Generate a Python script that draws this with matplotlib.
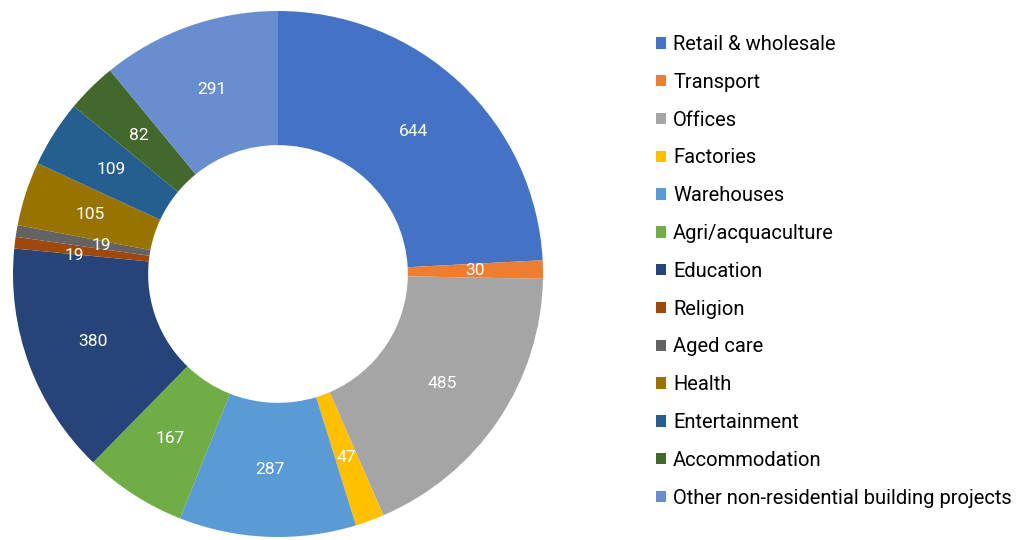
import matplotlib
matplotlib.use("Agg")
import matplotlib.pyplot as plt
import numpy as np
from matplotlib.patches import Patch

plt.rcParams['font.family'] = ['Roboto', 'DejaVu Sans']

# Non-residential building projects by category
categories = ["Retail & wholesale", "Transport", "Offices", "Factories", "Warehouses",
              "Agri/acquaculture", "Education", "Religion", "Aged care", "Health",
              "Entertainment", "Accommodation", "Other non-residential building projects"]
values = [644, 30, 485, 47, 287, 167, 380, 19, 19, 105, 109, 82, 291]
colors = ["#4472C4", "#ED7D31", "#A5A5A5", "#FFC000", "#5B9BD5", "#70AD47", "#264478",
          "#9E480E", "#636363", "#997300", "#255E91", "#43682B", "#698ED0"]

W, H = 1022, 540
fig = plt.figure(figsize=(W / 100, H / 100), dpi=100)
# donut centred at about (278, 274) px
ax = fig.add_axes([(278 - 265) / W, (H - 274 - 263) / H, 530 / W, 526 / H])

wedges, _ = ax.pie(values, colors=colors, startangle=90, counterclock=False,
                   radius=1.0, wedgeprops=dict(width=0.51, edgecolor='none'))
ax.set_xlim(-1, 1)
ax.set_ylim(-1, 1)
ax.set_aspect('auto')
ax.axis('off')

# value labels in the middle of the ring, small slices nudged like Excel does
nudge = {7: (-0.03, -0.02), 8: (0.07, -0.015)}
for i, w in enumerate(wedges):
    ang = np.deg2rad((w.theta1 + w.theta2) / 2)
    r = 0.745
    x, y = r * np.cos(ang), r * np.sin(ang)
    dx, dy = nudge.get(i, (0, 0))
    ax.text(x + dx, y + dy, str(values[i]), ha='center', va='center',
            color='white', fontsize=12.5)

handles = [Patch(facecolor=c, edgecolor='none') for c in colors]
fig.legend(handles, categories, loc='upper left', bbox_to_anchor=(656 / W, 1 - 35 / H),
           frameon=False, fontsize=14.5, handlelength=0.5, handleheight=0.5,
           handletextpad=0.35, labelspacing=0.934, borderaxespad=0, borderpad=0)

fig.savefig("out.png", dpi=100)
